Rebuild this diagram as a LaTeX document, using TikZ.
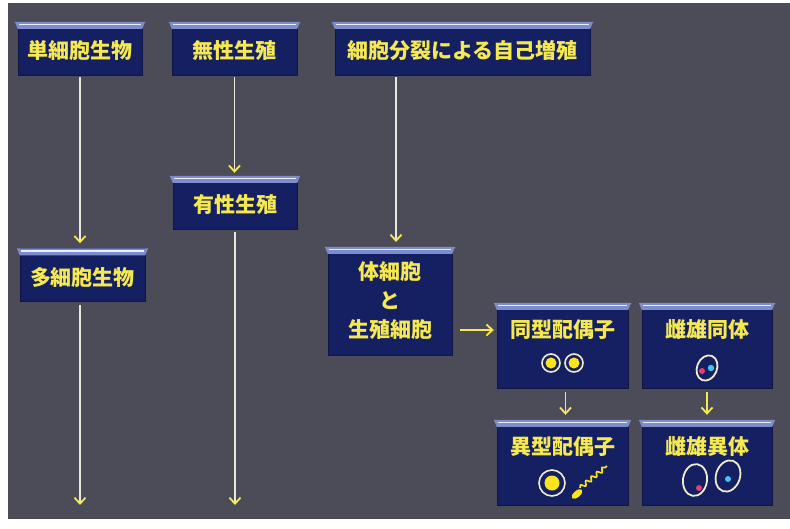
\documentclass[tikz,border=0pt]{standalone}
\usepackage{fontspec}
\usepackage{tikz}
\usetikzlibrary{positioning,calc,arrows.meta,decorations.pathmorphing}
\newfontfamily\jpfont{Noto Sans CJK JP}
\definecolor{bgGray}{RGB}{76,76,88}
\definecolor{boxNavy}{RGB}{20,32,98}
\definecolor{bevelBlue}{RGB}{125,140,205}
\definecolor{textYellow}{RGB}{245,232,80}
\definecolor{lineWhite}{RGB}{232,232,222}
\definecolor{ringCream}{RGB}{240,236,205}
\definecolor{dotYellow}{RGB}{250,228,30}
\definecolor{dotPink}{RGB}{232,60,115}
\definecolor{dotCyan}{RGB}{70,195,235}
\tikzset{
    box/.style={rectangle, fill=boxNavy, draw=boxNavy!70!black, text=textYellow,
        font=\jpfont\bfseries\fontsize{21pt}{29pt}\selectfont, inner sep=3pt, align=center},
    flow/.style={draw=lineWhite, line width=1.2pt, -{Straight Barb[length=6pt,width=11pt,line width=1.8pt,color=textYellow]}}
}

\begin{document}
\begin{tikzpicture}[
        x=1pt, y=-1pt,
        % --- CÁC HỘP ---
        % hộp một dòng
        stage/.style={box, minimum height=53pt, text height=23pt, text depth=3pt},
        % hộp có hình tế bào bên dưới chữ
        cellbox/.style={box, minimum width=131pt, minimum height=85pt, text depth=34pt},
        % mũi tên ngắn màu vàng
        yflow/.style={flow, draw=textYellow}
    ]

        % --- NỀN ---
        \fill[white] (0,0) rectangle (790,528);
        \fill[bgGray] (8,3) rectangle (790,519);

        % --- HÀNG TRÊN ---
        \node[stage, minimum width=124pt] (tan) at (80,48.5) {単細胞生物};
        \node[stage, minimum width=125pt] (musei) at (234.5,48.5) {無性生殖};
        \node[stage, minimum width=255pt] (bunretsu) at (462.5,48.5) {細胞分裂による自己増殖};

        % --- CỘT 1, 2 ---
        \node[stage, minimum width=125pt] (tasaibo) at (82.5,275) {多細胞生物};
        \node[stage, minimum width=124pt] (yusei) at (235,202.5) {有性生殖};

        % --- CỘT 3 ---
        \node[box, minimum width=124pt, minimum height=108pt] (taisaibo) at (390,301) {体細胞\\と\\生殖細胞};

        % --- CÁC HỘP TẾ BÀO ---
        \node[cellbox] (dokei) at (562.5,345.5) {同型配偶子};
        \node[cellbox, minimum width=130pt] (shiyu) at (707,345.5) {雌雄同体};
        \node[cellbox] (ikei) at (562.5,462.5) {異型配偶子};
        \node[cellbox, minimum width=130pt] (shiyui) at (707,462.5) {雌雄異体};

        % viền sáng phía trên mỗi hộp
        \foreach \n in {tan,musei,bunretsu,tasaibo,yusei,taisaibo,dokei,shiyu,ikei,shiyui}{
            \fill[bevelBlue] ($(\n.north west)+(-3,0)$) -- ($(\n.north east)+(3,0)$)
                -- ($(\n.north east)+(0,7)$) -- ($(\n.north west)+(0,7)$) -- cycle;
            \draw[white!85!bevelBlue, line width=1.6pt] ($(\n.north west)+(1,2.5)$) -- ($(\n.north east)+(-1,2.5)$);
        }

        % --- MŨI TÊN ---
        \coordinate (end1) at (80,505);
        \coordinate (end2) at (235,505);
        \draw[flow, shorten <=2pt, shorten >=5pt] (tan.south) -- (tan.south |- tasaibo.north);
        \draw[flow, shorten <=2pt, shorten >=3pt] (musei.south) -- (musei.south |- yusei.north);
        \draw[flow, shorten <=2pt, shorten >=5pt] (396,75) -- (396,247);
        \draw[flow, shorten <=3pt] (tan.south |- tasaibo.south) -- (end1);
        \draw[flow, shorten <=3pt] (yusei.south) -- (end2);
        \draw[yflow, shorten <=8pt, shorten >=3pt] (taisaibo.east |- 0,330) -- (dokei.west |- 0,330);
        \draw[yflow, shorten <=4pt, shorten >=5pt] ($(dokei.south)+(3,0)$) -- ($(ikei.north)+(3,0)$);
        \draw[yflow, shorten <=4pt, shorten >=5pt] (shiyu.south) -- (shiyui.north);

        % --- HÌNH TẾ BÀO ---
        % đồng giao tử
        \foreach \cx in {551,574}{
            \draw[ringCream, line width=1.6pt] (\cx,363) circle (9);
            \fill[dotYellow] (\cx,363) circle (5.5);
        }
        % lưỡng tính
        \draw[ringCream, line width=1.8pt, rotate around={-22:(707,368)}] (707,368) ellipse (10 and 13);
        \fill[dotPink] (702,371) circle (3);
        \fill[dotCyan] (711,368) circle (3.2);
        % dị giao tử
        \draw[ringCream, line width=1.6pt] (552,483) circle (13);
        \fill[dotYellow] (552,483) circle (7.5);
        \fill[dotYellow, rotate around={-50:(577,494)}] (577,494) ellipse (3.2 and 6.5);
        \draw[dotYellow, line width=1.7pt, decorate, decoration={snake, amplitude=2pt, segment length=7pt}] (580,488) -- (607,466);
        % đơn tính
        \draw[ringCream, line width=1.8pt, rotate around={-8:(695,480)}] (695,480) ellipse (12 and 16);
        \fill[dotPink] (699,488) circle (3);
        \draw[ringCream, line width=1.8pt, rotate around={-18:(728,476)}] (728,476) ellipse (12 and 16);
        \fill[dotCyan] (728,479) circle (3);

    \end{tikzpicture}
\end{document}
